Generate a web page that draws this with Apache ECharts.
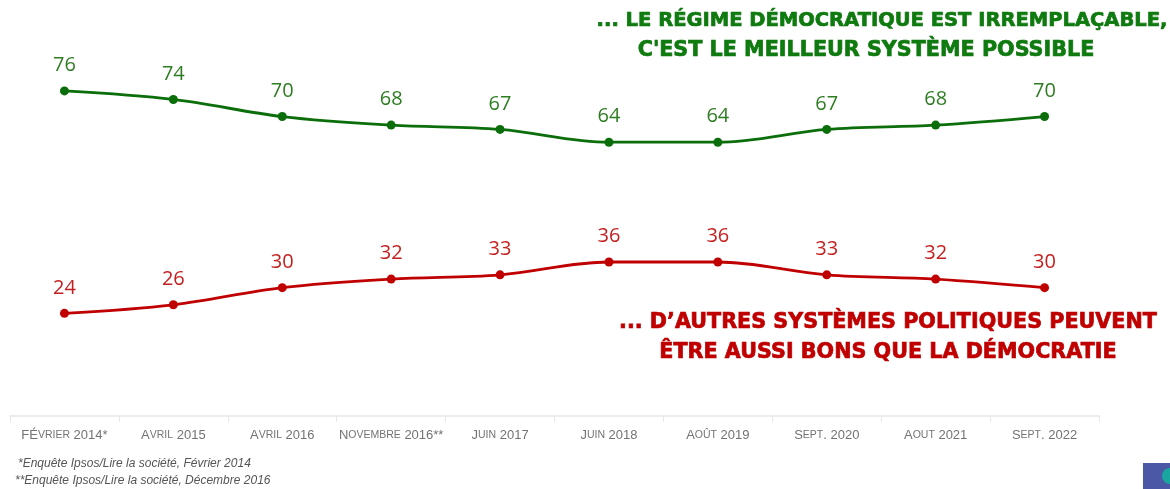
<!DOCTYPE html>
<html>
<head>
<meta charset="utf-8">
<script src="https://cdn.jsdelivr.net/npm/echarts@6/dist/echarts.min.js"></script>
<style>
  html, body { margin: 0; padding: 0; background: #fff; }
  #chart { width: 1170px; height: 489px; }
</style>
</head>
<body>
<div id="chart"></div>
<script>
// vagues d'enquête
var categories = ['FÉvrier 2014*', 'Avril 2015', 'Avril 2016', 'Novembre 2016**', 'Juin 2017',
                  'Juin 2018', 'Août 2019', 'Sept. 2020', 'Aout 2021', 'Sept. 2022'];
// % "le régime démocratique est irremplaçable"
var irremplacable = [76, 74, 70, 68, 67, 64, 64, 67, 68, 70];
// % "d'autres systèmes peuvent être aussi bons"
var autresSystemes = [24, 26, 30, 32, 33, 36, 36, 33, 32, 30];

var GREEN = '#0b6e0b', RED = '#c00000';

// petites capitales : minuscules -> majuscules plus petites
function smallCaps(str) {
    var out = '', buf = '', big = null;
    for (var i = 0; i < str.length; i++) {
        var c = str[i];
        var isLower = c !== c.toUpperCase();
        var b = !isLower;
        if (big !== null && b !== big) {
            out += '{' + (big ? 'b' : 's') + '|' + buf + '}';
            buf = '';
        }
        big = b;
        buf += isLower ? c.toUpperCase() : c;
    }
    if (buf) out += '{' + (big ? 'b' : 's') + '|' + buf + '}';
    return out;
}

function titleText(x, y, text, color, size) {
    return {
        type: 'text',
        style: {
            x: x, y: y, text: text,
            textAlign: 'center', textVerticalAlign: 'middle',
            font: 'bold ' + size + 'px "DejaVu Sans"', fill: color,
            stroke: color, lineWidth: 0.7
        }
    };
}

var myChart = echarts.init(document.getElementById('chart'));
var option = {
    animation: false,
    grid: { left: 10, right: 71, top: 31, bottom: 73 },
    xAxis: {
        type: 'category',
        data: categories,
        boundaryGap: true,
        axisLine: { lineStyle: { color: '#e6e6e6', width: 1.5 } },
        axisTick: { show: true, length: 6, lineStyle: { color: '#e6e6e6' } },
        axisLabel: {
            margin: 13,
            interval: 0,
            formatter: function (v) { return smallCaps(v); },
            rich: {
                b: { fontFamily: 'Liberation Sans Narrow, Liberation Sans, Arial', fontSize: 13, color: '#737373' },
                s: { fontFamily: 'Liberation Sans Narrow, Liberation Sans, Arial', fontSize: 10.5, color: '#737373' }
            }
        }
    },
    yAxis: {
        type: 'value',
        min: 0,
        max: 90,
        show: false,
        splitLine: { show: false }
    },
    series: [
        {
            name: 'irremplaçable',
            type: 'line',
            data: irremplacable,
            smooth: 0.35,
            symbol: 'circle',
            symbolSize: 9,
            lineStyle: { color: GREEN, width: 2.8 },
            itemStyle: { color: GREEN },
            label: {
                show: true,
                position: 'top',
                distance: 11,
                color: '#2e7d22',
                fontSize: 20,
                fontFamily: 'Open Sans, Lato, sans-serif'
            }
        },
        {
            name: 'autres systèmes',
            type: 'line',
            data: autresSystemes,
            smooth: 0.35,
            symbol: 'circle',
            symbolSize: 9,
            lineStyle: { color: RED, width: 2.8 },
            itemStyle: { color: RED },
            label: {
                show: true,
                position: 'top',
                distance: 11,
                color: '#c42020',
                fontSize: 20,
                fontFamily: 'Open Sans, Lato, sans-serif'
            }
        }
    ],
    graphic: [
        titleText(882, 21, '... LE RÉGIME DÉMOCRATIQUE EST IRREMPLAÇABLE,', '#0f7a0f', 19.5),
        titleText(866, 51, "C'EST LE MEILLEUR SYSTÈME POSSIBLE", '#0f7a0f', 20.7),
        titleText(888, 323, '... D’AUTRES SYSTÈMES POLITIQUES PEUVENT', '#c00000', 20.7),
        titleText(888, 353, 'ÊTRE AUSSI BONS QUE LA DÉMOCRATIE', '#c00000', 20.7),
        {
            type: 'text',
            style: {
                x: 18, y: 464, text: '*Enquête Ipsos/Lire la société, Février 2014',
                textVerticalAlign: 'middle',
                font: 'italic 12px "Liberation Sans Narrow", "Liberation Sans"', fill: '#555555'
            }
        },
        {
            type: 'text',
            style: {
                x: 15, y: 481, text: '**Enquête Ipsos/Lire la société, Décembre 2016',
                textVerticalAlign: 'middle',
                font: 'italic 12px "Liberation Sans Narrow", "Liberation Sans"', fill: '#555555'
            }
        },
        {
            type: 'rect',
            shape: { x: 1143, y: 463, width: 27, height: 26 },
            style: { fill: '#4a58a6' }
        },
        {
            type: 'circle',
            shape: { cx: 1170, cy: 476, r: 8 },
            style: { fill: '#1aa6a0' }
        }
    ]
};
myChart.setOption(option);
</script>
</body>
</html>
